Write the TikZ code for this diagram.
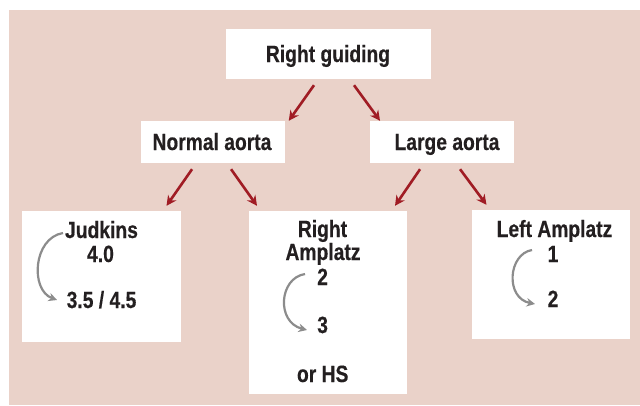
\documentclass[tikz,border=0pt]{standalone}
\usepackage{fontspec}
\newfontfamily\cfont[FakeStretch=0.82,FakeBold=0.4]{Liberation Sans}
\usetikzlibrary{arrows.meta}
\definecolor{bgpink}{HTML}{EAD2C9}
\definecolor{darkred}{HTML}{A01C24}
\definecolor{txtgray}{HTML}{231F20}
\definecolor{arrgray}{HTML}{8C8C8C}
\tikzset{
  box/.style={fill=white, draw=none, inner sep=0pt, rectangle},
  lbl/.style={anchor=base, inner sep=0pt, text=txtgray, font=\cfont\bfseries\fontsize{23.5}{24}\selectfont},
  redarrow/.style={draw=darkred, line width=2.6pt, -{Stealth[length=10pt,width=10pt]}},
  grayarrow/.style={draw=arrgray, line width=2.2pt, -{Stealth[length=8.5pt,width=8.5pt]}}
}
\begin{document}
\begin{tikzpicture}[x=1pt,y=-1pt]
\useasboundingbox (0,0) rectangle (640,405);
\fill[bgpink] (9,10) rectangle (640,405);
% boxes
\node[box, minimum width=205pt, minimum height=50pt] (rg) at (328.5,54) {};
\node[box, minimum width=143.5pt, minimum height=42pt] (na) at (212.75,142) {};
\node[box, minimum width=143.5pt, minimum height=42pt] (la) at (441.75,142) {};
\node[box, minimum width=159pt, minimum height=131pt] (jb) at (101.5,276.5) {};
\node[box, minimum width=158pt, minimum height=183pt] (rb) at (328,302.5) {};
\node[box, minimum width=158pt, minimum height=129pt] (lb) at (551,274.5) {};
% texts
\node[lbl] (trg) at (328,62) {Right guiding};
\node[lbl] (tna) at (212,150) {Normal aorta};
\node[lbl] (tla) at (447,150) {Large aorta};
\node[lbl] (tj1) at (101.5,238) {Judkins};
\node[lbl] (tj2) at (100.5,262) {4.0};
\node[lbl] (tj3) at (101.5,308) {3.5 / 4.5};
\node[lbl] (tr1) at (322.5,237) {Right};
\node[lbl] (tr2) at (323,260) {Amplatz};
\node[lbl] (tr3) at (322.6,285) {2};
\node[lbl] (tr4) at (322.6,333) {3};
\node[lbl] (tr5) at (322.7,382) {or HS};
\node[lbl] (tl1) at (554.5,237) {Left Amplatz};
\node[lbl] (tl2) at (553,262) {1};
\node[lbl] (tl3) at (553,307) {2};
% red arrows
\draw[redarrow] ([xshift=-14.5pt,yshift=-6pt]rg.south) -- ([xshift=76pt]na.north);
\draw[redarrow] ([xshift=25.5pt,yshift=-6pt]rg.south) -- ([xshift=-61.7pt]la.north);
\draw[redarrow] ([xshift=-20.7pt,yshift=-6pt]na.south) -- ([xshift=65pt,yshift=5pt]jb.north);
\draw[redarrow] ([xshift=18.3pt,yshift=-6pt]na.south) -- ([xshift=-71pt,yshift=5pt]rb.north);
\draw[redarrow] ([xshift=-21.7pt,yshift=-6pt]la.south) -- ([xshift=67pt,yshift=5pt]rb.north);
\draw[redarrow] ([xshift=18.3pt,yshift=-6pt]la.south) -- ([xshift=-64.5pt,yshift=5pt]lb.north);
% gray curved arrows
\coordinate (js) at (63,233);
\coordinate (je) at (57,300);
\coordinate (rs) at (305,274);
\coordinate (re) at (307,330);
\coordinate (ls) at (532,250);
\coordinate (le) at (535,304);
\draw[grayarrow] (js) .. controls (33,238) and (30,290) .. (je);
\draw[grayarrow] (rs) .. controls (279,278) and (276,322) .. (re);
\draw[grayarrow] (ls) .. controls (508,254) and (505,298) .. (le);
\end{tikzpicture}
\end{document}
